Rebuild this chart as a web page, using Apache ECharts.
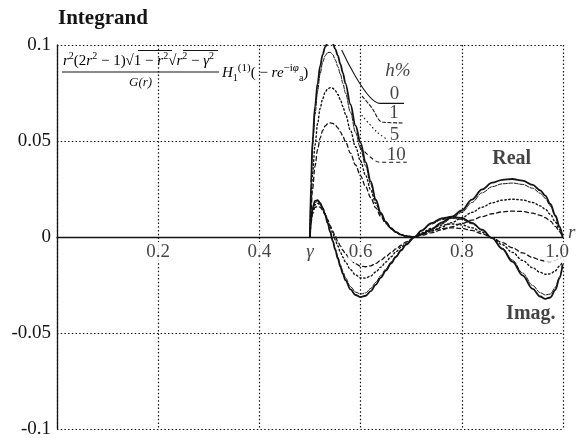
<!DOCTYPE html>
<html>
<head>
<meta charset="utf-8">
<script src="https://cdn.jsdelivr.net/npm/echarts@6/dist/echarts.min.js"></script>
<style>
  html, body { margin: 0; padding: 0; background: #fff; }
  #chart { width: 578px; height: 438px; }
</style>
</head>
<body>
<div id="chart"></div>
<script>
// Sample radii r (from gamma = 0.5 up to the rim r = 1)
const rGrid = [0.500, 0.502, 0.505, 0.510, 0.515, 0.520, 0.525, 0.530, 0.535, 0.540,
  0.545, 0.550, 0.555, 0.560, 0.565, 0.570, 0.580, 0.590, 0.600, 0.610,
  0.620, 0.630, 0.640, 0.650, 0.660, 0.670, 0.680, 0.690, 0.707, 0.720,
  0.740, 0.760, 0.780, 0.800, 0.820, 0.840, 0.860, 0.880, 0.900, 0.920,
  0.940, 0.955, 0.965, 0.975, 0.985, 0.993, 0.999];

// Real part of the integrand for h% = 0, 1, 5, 10
const realH0 = [0, 0.028, 0.050, 0.068, 0.080, 0.089, 0.095, 0.099, 0.1012, 0.1018,
  0.1008, 0.0978, 0.0945, 0.090, 0.0855, 0.080, 0.069, 0.058, 0.049, 0.039,
  0.029, 0.0195, 0.0125, 0.0078, 0.0046, 0.0025, 0.0012, 0.0004, 0, 0.0015,
  0.004, 0.0075, 0.0105, 0.0138, 0.0195, 0.0248, 0.0283, 0.0298, 0.0302, 0.0294,
  0.0272, 0.0243, 0.0215, 0.0172, 0.0112, 0.0055, 0];
const realH1 = [0, 0.026, 0.047, 0.064, 0.076, 0.085, 0.091, 0.0945, 0.0960, 0.0962,
  0.0950, 0.0922, 0.0888, 0.0848, 0.080, 0.075, 0.065, 0.0545, 0.046, 0.037,
  0.0275, 0.0188, 0.0122, 0.0077, 0.0046, 0.0025, 0.0012, 0.0004, 0, 0.0014,
  0.0037, 0.0068, 0.0097, 0.0128, 0.0180, 0.0230, 0.0262, 0.0277, 0.0281, 0.0274,
  0.0254, 0.0228, 0.0202, 0.0162, 0.0106, 0.0052, 0];
const realH5 = [0, 0.018, 0.033, 0.048, 0.059, 0.067, 0.072, 0.0755, 0.0772, 0.0778,
  0.0775, 0.0762, 0.0742, 0.0715, 0.068, 0.064, 0.0555, 0.047, 0.0395, 0.032,
  0.0245, 0.0175, 0.0118, 0.0075, 0.0045, 0.0025, 0.0012, 0.0004, 0, 0.0012,
  0.003, 0.0052, 0.0075, 0.0100, 0.0128, 0.0155, 0.0178, 0.0192, 0.0197, 0.0193,
  0.0180, 0.0162, 0.0145, 0.0118, 0.0078, 0.0039, 0];
const realH10 = [0, 0.014, 0.025, 0.037, 0.0455, 0.0515, 0.0555, 0.0578, 0.059, 0.0594,
  0.0592, 0.0583, 0.0568, 0.0548, 0.0524, 0.0497, 0.0437, 0.0375, 0.0318, 0.0262,
  0.0205, 0.0152, 0.0106, 0.0070, 0.0043, 0.0024, 0.0011, 0.0004, 0, 0.0009,
  0.0022, 0.0037, 0.0053, 0.0070, 0.0088, 0.0106, 0.0121, 0.0131, 0.0135, 0.0133,
  0.0124, 0.0113, 0.0101, 0.0083, 0.0055, 0.0028, 0];

// Imaginary part of the integrand for h% = 0, 1, 5, 10
const imagH0 = [0, 0.009, 0.0150, 0.0188, 0.0192, 0.0178, 0.0152, 0.0115, 0.0072, 0.0025,
  -0.0022, -0.0068, -0.0112, -0.0155, -0.0192, -0.0225, -0.0273, -0.0302, -0.0313, -0.0306,
  -0.0282, -0.0248, -0.0212, -0.0175, -0.0138, -0.0103, -0.0070, -0.0040, 0, 0.0033,
  0.0072, 0.0097, 0.0106, 0.0098, 0.0074, 0.0038, -0.0006, -0.0062, -0.0128, -0.0200,
  -0.0270, -0.0310, -0.0322, -0.0315, -0.0275, -0.0215, -0.0148];
const imagH1 = [0, 0.0085, 0.0143, 0.0180, 0.0185, 0.0172, 0.0148, 0.0113, 0.0072, 0.0027,
  -0.0018, -0.0062, -0.0104, -0.0145, -0.0180, -0.0212, -0.0259, -0.0287, -0.0297, -0.0291,
  -0.0268, -0.0236, -0.0201, -0.0166, -0.0131, -0.0098, -0.0066, -0.0038, 0, 0.0031,
  0.0067, 0.0090, 0.0098, 0.0091, 0.0069, 0.0035, -0.0006, -0.0058, -0.0120, -0.0187,
  -0.0252, -0.0290, -0.0302, -0.0297, -0.0262, -0.0208, -0.0146];
const imagH5 = [0, 0.0080, 0.0133, 0.0168, 0.0175, 0.0168, 0.0150, 0.0122, 0.0088, 0.0052,
  0.0018, -0.0015, -0.0047, -0.0078, -0.0105, -0.0130, -0.0170, -0.0198, -0.0213, -0.0214,
  -0.0203, -0.0182, -0.0157, -0.0130, -0.0103, -0.0077, -0.0053, -0.0031, 0, 0.0021,
  0.0045, 0.0062, 0.0068, 0.0063, 0.0048, 0.0025, -0.0004, -0.0040, -0.0080, -0.0122,
  -0.0160, -0.0184, -0.0194, -0.0192, -0.0176, -0.0152, -0.0128];
const imagH10 = [0, 0.0074, 0.0122, 0.0154, 0.0160, 0.0155, 0.0140, 0.0117, 0.0089, 0.0059,
  0.0030, 0.0003, -0.0023, -0.0047, -0.0069, -0.0088, -0.0119, -0.0140, -0.0152, -0.0155,
  -0.0150, -0.0138, -0.0121, -0.0102, -0.0082, -0.0062, -0.0043, -0.0025, 0, 0.0015,
  0.0032, 0.0044, 0.0048, 0.0044, 0.0034, 0.0017, -0.0004, -0.0029, -0.0056, -0.0083,
  -0.0106, -0.0120, -0.0127, -0.0128, -0.0122, -0.0112, -0.0100];

// Axis tick labels
const xTickValues = [0.2, 0.4, 0.6, 0.8, 1.0];
const xTickLabels = ['0.2', '0.4', '0.6', '0.8', '1.0'];
const yTickValues = [-0.1, -0.05, 0, 0.05, 0.1];
const yTickLabels = ['-0.1', '-0.05', '0', '0.05', '0.1'];

// Legend keys (h%) and the leader lines from each key to its curve
const hKeys = ['0', '1', '5', '10'];
const leader0 = [[0.5626, 0.0974], [0.6383, 0.0696], [0.6858, 0.0696]];
const leader1 = [[0.6028, 0.0734], [0.6225, 0.0672], [0.6423, 0.0599], [0.6858, 0.0594]];
const leader5 = [[0.6022, 0.0635], [0.6318, 0.0548], [0.6542, 0.0505]];
const leader10 = [[0.5988, 0.0470], [0.6383, 0.0389], [0.6911, 0.0389]];

const gammaValue = 0.5;

const INK = '#141414';
const SERIF = '"Liberation Serif", "Times New Roman", serif';

const styles = [
  { width: 1.8, type: 'solid' },
  { width: 1.0, type: [4, 1.5] },
  { width: 1.4, type: [1.5, 2.5] },
  { width: 1.3, type: [4, 3] }
];

function pairs(vals) { return rGrid.map((r, i) => [r, vals[i]]); }

function curve(name, vals, k) {
  return {
    name: name,
    type: 'line',
    data: pairs(vals),
    showSymbol: false,
    smooth: 0.35,
    smoothMonotone: 'x',
    silent: true,
    z: 4 - k,
    lineStyle: { color: INK, width: styles[k].width, type: styles[k].type, cap: 'round' }
  };
}

function leader(vals, k) {
  return {
    type: 'line', data: vals, showSymbol: false, smooth: 0.3, silent: true,
    lineStyle: { color: INK, width: 1.1, type: styles[k].type }
  };
}

function textPoint(x, y, text, opts) {
  return {
    value: [x, y],
    label: Object.assign({
      show: true, formatter: text, position: 'inside', color: INK,
      fontFamily: SERIF, fontSize: 19
    }, opts || {})
  };
}

const annotations = [
  textPoint(0.6739, 0.0865, 'h%', { fontStyle: 'italic' }),
  textPoint(0.667, 0.0745, hKeys[0]),
  textPoint(0.666, 0.0646, hKeys[1]),
  textPoint(0.667, 0.0531, hKeys[2]),
  textPoint(0.6706, 0.0427, hKeys[3]),
  textPoint(0.8986, 0.0405, 'Real', { fontWeight: 'bold', fontSize: 20 }),
  textPoint(0.9364, -0.0402, 'Imag.', { fontWeight: 'bold', fontSize: 20 }),
  textPoint(gammaValue, 0, 'γ', {
    position: 'bottom', distance: 5, fontStyle: 'italic',
    backgroundColor: '#fff', padding: [0, 1]
  }),
  textPoint(1.0, 0, 'r', { position: 'right', distance: 5, fontStyle: 'italic', offset: [0, -4] })
];

// tick labels of the r axis sit just under the zero line
const xTickMarks = xTickValues.map((v, i) => textPoint(v, 0, xTickLabels[i], {
  position: 'bottom', distance: 5, backgroundColor: '#fff', padding: [1, 1, 0, 1],
  offset: i === xTickValues.length - 1 ? [-6, 0] : [0, 0]
}));

const chart = echarts.init(document.getElementById('chart'), null, { renderer: 'canvas' });

const mathRich = {
  n: { fontFamily: SERIF, fontSize: 15, lineHeight: 20, color: INK },
  i: { fontFamily: SERIF, fontSize: 15, lineHeight: 20, fontStyle: 'italic', color: INK },
  s: { fontFamily: SERIF, fontSize: 10, lineHeight: 10, verticalAlign: 'top', color: INK },
  si: { fontFamily: SERIF, fontSize: 10, lineHeight: 10, verticalAlign: 'top', fontStyle: 'italic', color: INK },
  b: { fontFamily: SERIF, fontSize: 10, lineHeight: 10, verticalAlign: 'bottom', color: INK }
};

chart.setOption({
  animation: false,
  backgroundColor: '#fff',
  title: {
    text: 'Integrand', left: 53, top: 3,
    textStyle: { fontFamily: SERIF, fontSize: 21, fontWeight: 'bold', color: INK }
  },
  grid: { left: 57, right: 15, top: 45, bottom: 9, containLabel: false, outerBoundsMode: 'none' },
  xAxis: {
    type: 'value', min: 0, max: 1, interval: 0.2,
    axisLine: { onZero: true, lineStyle: { color: INK, width: 1.3 } },
    axisTick: { show: false },
    axisLabel: { show: false },
    splitLine: { show: true, lineStyle: { color: INK, width: 1.2, type: [1.5, 2.2] } }
  },
  yAxis: {
    type: 'value', min: -0.1, max: 0.1, interval: 0.05,
    axisLine: { show: true, lineStyle: { color: INK, width: 1.3 } },
    axisTick: { show: false },
    axisLabel: {
      margin: 6, color: INK, fontFamily: SERIF, fontSize: 19,
      formatter: function (v) {
        const i = yTickValues.findIndex(t => Math.abs(t - v) < 1e-6);
        return i < 0 ? '' : yTickLabels[i];
      }
    },
    splitLine: { show: true, lineStyle: { color: INK, width: 1.2, type: [1.5, 2.2] } }
  },
  series: [
    curve('Real h=0', realH0, 0),
    curve('Real h=1', realH1, 1),
    curve('Real h=5', realH5, 2),
    curve('Real h=10', realH10, 3),
    curve('Imag h=0', imagH0, 0),
    curve('Imag h=1', imagH1, 1),
    curve('Imag h=5', imagH5, 2),
    curve('Imag h=10', imagH10, 3),
    leader(leader0, 0),
    leader(leader1, 1),
    leader(leader5, 2),
    leader(leader10, 3),
    {
      type: 'scatter', symbolSize: 0, silent: true, z: 10,
      data: annotations.concat(xTickMarks)
    }
  ],
  graphic: [
    { // numerator
      type: 'text', left: 63, top: 51, z: 20,
      style: {
        text: '{i|r}{s|2}{n|(2}{i|r}{s|2}{n| − 1)√}{n|1 − }{i|r}{s|2}{n|√}{i|r}{s|2}{n| − }{i|γ}{s|2}',
        rich: mathRich
      }
    },
    { type: 'line', z: 20, shape: { x1: 138, y1: 50.5, x2: 172, y2: 50.5 }, style: { stroke: INK, lineWidth: 1 } },
    { type: 'line', z: 20, shape: { x1: 183, y1: 50.5, x2: 218, y2: 50.5 }, style: { stroke: INK, lineWidth: 1 } },
    { type: 'line', z: 20, shape: { x1: 62, y1: 72, x2: 219, y2: 72 }, style: { stroke: INK, lineWidth: 1.1 } },
    { // denominator
      type: 'text', left: 129, top: 76, z: 20,
      style: { text: 'G(r)', font: 'italic 13px ' + SERIF, fill: INK }
    },
    { // Hankel factor
      type: 'text', left: 222, top: 63, z: 20,
      style: {
        text: '{i|H}{b|1}{s|(1)}{n|( − }{i|re}{s|−i}{si|φ}{b|a}{n|)}',
        rich: {
          n: { fontFamily: SERIF, fontSize: 15, lineHeight: 20, color: INK },
          i: { fontFamily: SERIF, fontSize: 15, lineHeight: 20, fontStyle: 'italic', color: INK },
          s: { fontFamily: SERIF, fontSize: 11, lineHeight: 10, verticalAlign: 'top', color: INK },
          si: { fontFamily: SERIF, fontSize: 11, lineHeight: 10, verticalAlign: 'top', fontStyle: 'italic', color: INK },
          b: { fontFamily: SERIF, fontSize: 10, lineHeight: 10, verticalAlign: 'bottom', color: INK }
        }
      }
    }
  ]
});
</script>
</body>
</html>
